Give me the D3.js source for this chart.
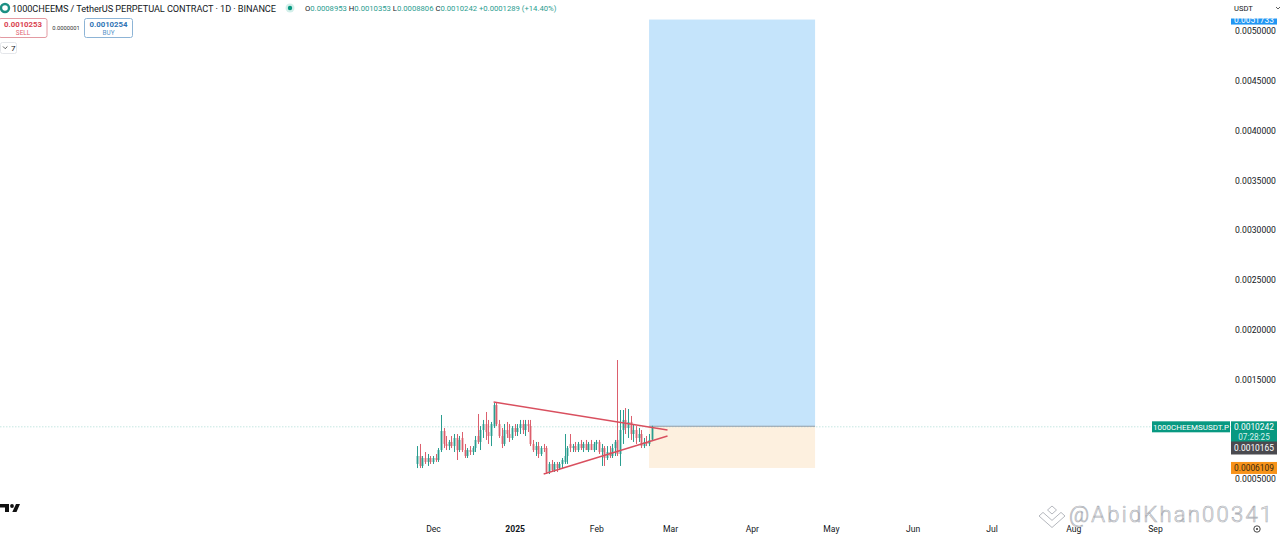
<!DOCTYPE html>
<html lang="en">

<head>
  <meta charset="UTF-8">
  <title>1000CHEEMS</title>
  <style>
    html,
    body {
      height: 100%;
      margin: 0;
      background: #fff;
    }

    svg {
      display: block;
      font-family: Roboto, sans-serif;
    }
  </style>
</head>

<body>
  <svg width="1280" height="537">
    <defs>
      <filter id="soft" x="-5%" y="-5%" width="110%" height="110%">
        <feGaussianBlur stdDeviation="0.4"></feGaussianBlur>
      </filter>
    </defs>
  </svg>
  <script src="https://cdn.jsdelivr.net/npm/d3@7"></script>
  <script>
    // prices in millionths, one candle per day from 2024-11-25
    var firstDay = '2024-11-25'
    var opens = [651, 731, 631, 711, 671, 711, 671, 711, 691, 791, 982, 852, 831, 872, 831, 912, 791, 912, 791, 731, 791, 771, 811, 932, 872, 992, 1052, 972, 932, 1032, 1243, 1052, 932, 852, 992, 952, 912, 1012, 972, 1012, 1052, 992, 1052, 1032, 852, 791, 831, 751, 811, 811, 570, 651, 590, 651, 610, 651, 671, 731, 852, 811, 831, 791, 852, 811, 852, 791, 852, 791, 852, 872, 771, 811, 711, 771, 731, 811, 892, 751, 992, 1093, 1012, 1073, 952, 992, 912, 952, 831, 872, 852, 895]
    var highs = [831, 852, 731, 771, 751, 731, 731, 751, 811, 1143, 1012, 932, 892, 932, 952, 952, 932, 972, 852, 811, 831, 831, 932, 1153, 1032, 1093, 1173, 1093, 1073, 1263, 1263, 1093, 1012, 1052, 1073, 1052, 1032, 1052, 1052, 1093, 1093, 1093, 1093, 1093, 892, 872, 872, 831, 852, 831, 671, 691, 671, 671, 671, 711, 952, 831, 952, 852, 872, 872, 892, 872, 892, 872, 892, 872, 892, 892, 852, 831, 831, 831, 852, 892, 1695, 1193, 1193, 1213, 1203, 1133, 1052, 1032, 1012, 992, 912, 932, 952, 1035]
    var lows = [610, 610, 610, 651, 631, 651, 651, 671, 671, 771, 811, 791, 791, 811, 771, 691, 771, 771, 711, 711, 741, 741, 771, 852, 791, 912, 892, 852, 831, 1012, 1032, 912, 811, 831, 912, 872, 892, 932, 932, 952, 952, 932, 972, 831, 771, 731, 711, 731, 771, 550, 550, 570, 570, 570, 590, 610, 651, 651, 771, 771, 771, 771, 791, 771, 791, 771, 791, 771, 791, 751, 631, 631, 691, 711, 711, 731, 731, 631, 852, 952, 912, 892, 872, 852, 872, 811, 811, 831, 831, 881]
    var closes = [731, 631, 711, 671, 711, 671, 711, 691, 791, 982, 852, 831, 872, 831, 912, 791, 892, 791, 731, 791, 771, 811, 892, 872, 992, 1052, 972, 932, 1052, 1243, 1052, 932, 852, 992, 952, 912, 1012, 972, 1012, 1052, 992, 1052, 1032, 852, 791, 831, 751, 811, 801, 570, 651, 590, 651, 610, 651, 691, 731, 811, 811, 831, 791, 852, 811, 852, 791, 852, 791, 852, 872, 771, 811, 711, 771, 731, 811, 872, 751, 992, 1093, 1012, 1073, 952, 992, 912, 952, 831, 872, 852, 892, 1024]

    var priceTicks = [0.0005, 0.0015, 0.002, 0.0025, 0.003, 0.0035, 0.004, 0.0045, 0.005]
    var monthTicks = ['2024-12-01', '2025-01-01', '2025-02-01', '2025-03-01', '2025-04-01', '2025-05-01', '2025-06-01', '2025-07-01', '2025-08-01', '2025-09-01']
    var monthNames = ['Dec', '2025', 'Feb', 'Mar', 'Apr', 'May', 'Jun', 'Jul', 'Aug', 'Sep']

    // trend lines: start date, start price, end date, end price
    var trendLines = [
      ['2024-12-24', 0.001273, '2025-02-28', 0.000992],
      ['2025-01-12', 0.00055, '2025-02-28', 0.000932]
    ]
    var positionDates = ['2025-02-21', '2025-04-25']
    var targetPrice = 0.005115
    var entryPrice = 0.00103
    var stopPrice = 0.0006109
    var lastPrice = 0.0010242

    var svg = d3.select('svg')
    var day = 86400000
    var x = d3.scaleUtc().domain([new Date('2024-12-01'), new Date('2025-09-01')]).range([433, 1155])
    var y = d3.scaleLinear().domain([0.0005, 0.005]).range([479, 31])
    var candles = opens.map((o, i) => ({
      date: new Date(+new Date(firstDay) + i * day),
      o: o * 1e-6, h: highs[i] * 1e-6, l: lows[i] * 1e-6, c: closes[i] * 1e-6
    }))

    var upColor = '#2a9d8f'
    var downColor = '#dc5f6d'
    var dark = '#131722'

    // risk / reward box
    var boxX0 = x(new Date(positionDates[0]))
    var boxX1 = x(new Date(positionDates[1]))
    svg.append('rect').attr('x', boxX0).attr('width', boxX1 - boxX0)
      .attr('y', y(targetPrice)).attr('height', y(entryPrice) - y(targetPrice)).attr('fill', '#c5e4fb')
    svg.append('rect').attr('x', boxX0).attr('width', boxX1 - boxX0)
      .attr('y', y(entryPrice)).attr('height', y(stopPrice) - y(entryPrice)).attr('fill', '#fdf0df')

    // last price line
    svg.append('line').attr('x1', 0).attr('x2', 1231)
      .attr('y1', y(lastPrice)).attr('y2', y(lastPrice))
      .attr('stroke', '#c5e6e1').attr('stroke-width', 1).attr('stroke-dasharray', '1.5 1.5')
    svg.append('line').attr('x1', boxX0).attr('x2', boxX1)
      .attr('y1', y(entryPrice)).attr('y2', y(entryPrice))
      .attr('stroke', '#8f9ba8').attr('stroke-width', 1.2)

    // candles
    var candle = svg.append('g').attr('filter', 'url(#soft)')
      .selectAll('g').data(candles).join('g')
      .attr('stroke', d => d.c >= d.o ? upColor : downColor)
      .attr('fill', d => d.c >= d.o ? upColor : downColor)
    candle.append('line')
      .attr('x1', d => Math.round(x(d.date)) + 0.5).attr('x2', d => Math.round(x(d.date)) + 0.5)
      .attr('y1', d => y(d.h)).attr('y2', d => y(d.l))
    candle.append('rect')
      .attr('x', d => Math.round(x(d.date)) - 0.4).attr('width', 1.8)
      .attr('y', d => y(Math.max(d.o, d.c)))
      .attr('height', d => Math.max(1, Math.abs(y(d.o) - y(d.c))))
      .attr('stroke', 'none')

    // trend lines
    svg.append('g').attr('filter', 'url(#soft)').selectAll('line').data(trendLines).join('line')
      .attr('x1', d => x(new Date(d[0]))).attr('y1', d => y(d[1]))
      .attr('x2', d => x(new Date(d[2]))).attr('y2', d => y(d[3]))
      .attr('stroke', '#d9505f').attr('stroke-width', 1.4)

    // axes
    var yAxis = svg.append('g').attr('transform', 'translate(1232,0)')
      .call(d3.axisRight(y).tickValues(priceTicks).tickSize(0).tickPadding(3).tickFormat(d => d.toFixed(7)))
    var xAxis = svg.append('g').attr('transform', 'translate(0,523)')
      .call(d3.axisBottom(x).tickValues(monthTicks.map(d => new Date(d))).tickSize(0).tickPadding(3)
        .tickFormat((d, i) => monthNames[i]))
    yAxis.select('.domain').remove()
    xAxis.select('.domain').remove()
    yAxis.selectAll('text').attr('font-size', 8.6).attr('font-family', 'Roboto').attr('fill', dark)
    xAxis.selectAll('text').attr('font-size', 8.6).attr('font-family', 'Roboto').attr('fill', dark)
      .attr('font-weight', (d, i) => i == 1 ? 700 : 400)

    function label(px, py, str, size, color, anchor, weight) {
      return svg.append('text').attr('x', px).attr('y', py).text(str)
        .attr('font-size', size).attr('fill', color)
        .attr('text-anchor', anchor || 'start').attr('font-weight', weight || 400)
    }

    // header
    svg.append('circle').attr('cx', 5).attr('cy', 8).attr('r', 4).attr('fill', 'none')
      .attr('stroke', '#1c8f84').attr('stroke-width', 2.4)
    label(12, 11.5, '1000CHEEMS / TetherUS PERPETUAL CONTRACT · 1D · BINANCE', 9.2, dark)
      .attr('textLength', 264)
    svg.append('circle').attr('cx', 290).attr('cy', 8).attr('r', 4.5).attr('fill', '#d3efea')
    svg.append('circle').attr('cx', 290).attr('cy', 8).attr('r', 2.2).attr('fill', '#089981')

    var legend = svg.append('text').attr('x', 305).attr('y', 11).attr('font-size', 7.7)
    var legendParts = [['O', dark], ['0.0008953 ', upColor], ['H', dark], ['0.0010353 ', upColor],
      ['L', dark], ['0.0008806 ', upColor], ['C', dark], ['0.0010242 ', upColor], ['+0.0001289 (+14.40%)', upColor]]
    legendParts.forEach(p => legend.append('tspan').attr('fill', p[1]).text(p[0]))

    // buy and sell buttons
    svg.append('rect').attr('x', -1).attr('y', 18.5).attr('width', 48).attr('height', 19).attr('rx', 2)
      .attr('fill', '#fff').attr('stroke', '#e39aa2')
    label(23, 26.5, '0.0010253', 7.8, '#d9434f', 'middle', 700)
    label(23, 34.5, 'SELL', 6.4, '#e0606e', 'middle')
    label(66, 30, '0.0000001', 5.8, '#333', 'middle')
    svg.append('rect').attr('x', 84.5).attr('y', 18.5).attr('width', 48).attr('height', 19).attr('rx', 2)
      .attr('fill', '#fff').attr('stroke', '#8db4d6')
    label(108.5, 26.5, '0.0010254', 7.8, '#2f74b5', 'middle', 700)
    label(108.5, 34.5, 'BUY', 6.4, '#5a94c8', 'middle')
    svg.append('rect').attr('x', 0.5).attr('y', 42.5).attr('width', 16).attr('height', 11).attr('rx', 2)
      .attr('fill', '#fff').attr('stroke', '#e4e6ea')
    svg.append('path').attr('d', 'M3 46.5l2.2 2.2 2.2-2.2').attr('fill', 'none').attr('stroke', '#333').attr('stroke-width', 0.8)
    label(11, 51, '7', 8, dark)

    // price scale labels
    function tag(px, top, w, h, fill, str, color, size) {
      svg.append('rect').attr('x', px).attr('y', top).attr('width', w).attr('height', h).attr('fill', fill)
      if (str) label(px + w / 2, top + h / 2 + 3, str, size || 8.4, color, 'middle')
    }
    tag(1231, y(targetPrice) - 5, 46, 10, '#2196f3', '0.0051733', '#fff')
    tag(1152, y(lastPrice) - 5.5, 78, 11, '#089981', '1000CHEEMSUSDT.P', '#fff', 8)
    tag(1231, y(lastPrice) - 5.5, 46, 21, '#089981', null)
    label(1254, y(lastPrice) + 3, lastPrice.toFixed(7), 8.4, '#fff', 'middle')
    label(1254, y(lastPrice) + 13, '07:28:25', 8.2, '#d6f0ec', 'middle')
    tag(1231, 441.5, 46, 13, '#4a4a4f', '0.0010165', '#fff')
    tag(1231, y(stopPrice) - 6, 46, 12, '#f7931a', stopPrice.toFixed(7), '#3a2a10')

    // price scale header sits over the target label and cuts its top off
    svg.append('rect').attr('x', 1228).attr('y', 0).attr('width', 52).attr('height', 18.5).attr('fill', '#fff')
    label(1234, 11, 'USDT', 7.6, dark)
    svg.append('path').attr('d', 'M1276 7l2 2 2-2').attr('fill', 'none').attr('stroke', '#333').attr('stroke-width', 0.8)

    // tradingview mark
    svg.append('path').attr('fill', '#111')
      .attr('d', 'M0 504h9v8h-4v-4.6h-5zM16 504h4l-3.5 8h-4.2z')
    svg.append('circle').attr('cx', 12).attr('cy', 506).attr('r', 1.9).attr('fill', '#111')

    // settings icon
    svg.append('circle').attr('cx', 1257).attr('cy', 529).attr('r', 3.2).attr('fill', 'none').attr('stroke', '#333').attr('stroke-width', 0.9)
    svg.append('circle').attr('cx', 1257).attr('cy', 529).attr('r', 1).attr('fill', '#333')

    // watermark
    svg.append('path').attr('fill', 'none').attr('stroke', '#b5b8be').attr('stroke-width', 1)
      .attr('d', 'M1052 506l4.5 4 -4.5 4 -4.5-4zM1039 516l4-3.6 9 8 9-8 4 3.6-13 11.5z')
    svg.append('text').attr('x', 1069).attr('y', 522).text('@AbidKhan00341')
      .attr('font-size', 22).attr('font-family', 'Roboto').attr('font-weight', 300)
      .attr('textLength', 203).attr('fill', '#fff').attr('stroke', '#aeb1b7').attr('stroke-width', 0.7)
  </script>
</body>

</html>
